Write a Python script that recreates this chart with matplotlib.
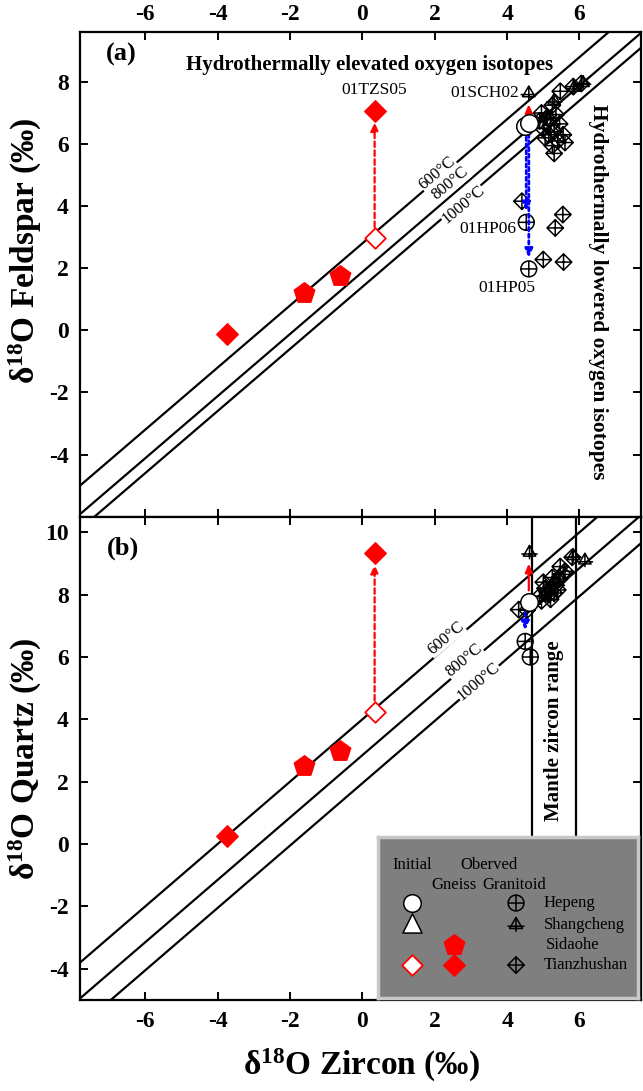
import numpy as np
import matplotlib
matplotlib.use("Agg")
import matplotlib.pyplot as plt
from matplotlib.path import Path

plt.rcParams['font.family'] = ['Liberation Serif', 'DejaVu Serif']
plt.rcParams['mathtext.fontset'] = 'custom'
plt.rcParams['mathtext.rm'] = 'Liberation Serif'
plt.rcParams['mathtext.bf'] = 'Liberation Serif:bold'
plt.rcParams['axes.unicode_minus'] = False

# ---- data (delta18O, permil) ----
temps = ['600°C', '800°C', '1000°C']
fsp_offset = [2.8, 1.88, 1.4]      # feldspar - zircon
qtz_offset = [4.0, 2.85, 1.95]     # quartz - zircon
mantle_zrc = [4.7, 5.9]

# gneiss (Tianzhushan 01TZS05 etc.)
gn_ini_zrc = [0.34]
gn_ini_fsp = [2.97]
gn_ini_qtz = [4.25]
gn_obs_zrc = [-3.73, 0.34]
gn_obs_fsp = [-0.13, 7.06]
gn_obs_qtz = [0.25, 9.32]
sd_zrc = [-1.62, -0.62]
sd_fsp = [1.22, 1.76]
sd_qtz = [2.50, 3.00]

# granitoid initial
ini_zrc = [4.50, 4.60]
ini_fsp = [6.58, 6.68]
ini_qtz = [7.70, 7.78]

# granitoid observed - feldspar panel
hp_a_zrc = [4.53, 4.60]
hp_a_fsp = [3.48, 1.98]
sc_a_zrc = [4.60, 5.85, 6.10, 5.30, 5.10]
sc_a_fsp = [7.64, 7.82, 7.97, 7.40, 6.90]
tz_a_zrc = [4.41, 5.54, 5.33, 5.00, 5.56, 5.47, 5.83, 6.05, 4.95, 5.25, 5.10, 5.35,
            5.00, 5.20, 5.45, 5.15, 5.30, 5.55, 5.40, 5.25, 5.60, 5.30, 4.90, 5.05]
tz_a_fsp = [4.16, 3.73, 3.30, 2.28, 2.20, 7.70, 7.85, 7.95, 7.00, 7.25, 6.85, 6.95,
            6.50, 6.60, 6.65, 6.30, 6.40, 6.30, 6.10, 5.95, 6.05, 5.70, 6.75, 6.20]

# granitoid observed - quartz panel
hp_b_zrc = [4.50, 4.64]
hp_b_qtz = [6.50, 6.00]
sc_b_zrc = [4.62, 5.83, 6.15, 5.30, 5.05]
sc_b_qtz = [9.35, 9.24, 9.10, 8.45, 8.00]
tz_b_zrc = [4.32, 5.47, 5.80, 5.00, 5.25, 4.90, 5.10, 5.35, 5.15, 5.45, 5.20, 5.05,
            5.30, 5.55, 4.95, 5.60, 5.40, 4.55]
tz_b_qtz = [7.52, 8.90, 9.20, 8.40, 8.55, 7.95, 8.10, 8.30, 8.00, 8.50, 7.85, 8.20,
            8.05, 8.65, 7.80, 8.75, 8.15, 7.50]

xticks = [-6, -4, -2, 0, 2, 4, 6]

# ---- custom markers ----
circ = Path.unit_circle()
cross = Path([(-1, 0), (1, 0), (0, -1), (0, 1)],
             [Path.MOVETO, Path.LINETO, Path.MOVETO, Path.LINETO])
circ_plus = Path.make_compound_path(circ, cross)
diam = Path([(0, 1), (1, 0), (0, -1), (-1, 0), (0, 1)],
            [Path.MOVETO, Path.LINETO, Path.LINETO, Path.LINETO, Path.CLOSEPOLY])
diam_plus = Path.make_compound_path(diam, cross)
tri = Path([(0, 1), (0.87, -0.5), (-0.87, -0.5), (0, 1)],
           [Path.MOVETO, Path.LINETO, Path.LINETO, Path.CLOSEPOLY])
tri_bar = Path([(-1.15, -0.2), (1.15, -0.2), (0, 1), (0, -0.95)],
               [Path.MOVETO, Path.LINETO, Path.MOVETO, Path.LINETO])
tri_plus = Path.make_compound_path(tri, tri_bar)

red = '#ff0000'
blue = '#0000ff'

fig = plt.figure(figsize=(6.43, 10.91), dpi=100)
ax1 = fig.add_axes([0.1244, 0.5264, 0.8725, 0.444])
ax2 = fig.add_axes([0.1244, 0.0834, 0.8725, 0.443])

xl = (-7.8, 7.7)
for ax in (ax1, ax2):
    ax.set_xlim(*xl)
    ax.set_xticks(xticks)
    ax.tick_params(direction='in', length=6, width=1.4, top=True, right=True,
                   labelsize=17, pad=8)
    for s in ax.spines.values():
        s.set_linewidth(1.6)

ax1.set_ylim(-6, 9.6)
ax1.set_yticks([-4, -2, 0, 2, 4, 6, 8])
ax1.tick_params(axis='x', labeltop=True, labelbottom=False, pad=5)
ax2.set_ylim(-5, 10.5)
ax2.set_yticks([-4, -2, 0, 2, 4, 6, 8, 10])
for ax in (ax1, ax2):
    for lab in ax.get_xticklabels() + ax.get_yticklabels():
        lab.set_fontweight('bold')

lx = np.array([-9.0, 9.0])


def eq_lines(ax, offs, lab_pos):
    for d, t, (tx, ty) in zip(offs, temps, lab_pos):
        ax.plot(lx, lx + d, color='k', lw=1.6, zorder=2)
        ax.text(tx, ty, t, rotation=40, fontsize=12, ha='center', va='center',
                rotation_mode='anchor', zorder=3,
                bbox=dict(fc='white', ec='none', pad=0.2))


def obs(ax, x, y, m, s=140):
    ax.scatter(x, y, marker=m, s=s, facecolors='none', edgecolors='k',
               linewidths=1.1, zorder=4)


def arrow(ax, x, y0, y1, color, ls, lw=1.6):
    ax.annotate('', xy=(x, y1), xytext=(x, y0),
                arrowprops=dict(arrowstyle='-|>,head_width=0.22,head_length=0.5',
                                color=color, lw=lw, linestyle=ls,
                                shrinkA=8, shrinkB=8), zorder=5)


# ---- panel (a) feldspar ----
eq_lines(ax1, fsp_offset, [(2.07, 5.07), (2.44, 4.73), (2.78, 4.05)])
obs(ax1, tz_a_zrc, tz_a_fsp, diam_plus)
obs(ax1, sc_a_zrc, sc_a_fsp, tri_plus)
obs(ax1, hp_a_zrc, hp_a_fsp, circ_plus, 130)
ax1.scatter(ini_zrc, ini_fsp, marker='o', s=160, facecolors='white',
            edgecolors='k', linewidths=1.1, zorder=6)
ax1.scatter(gn_obs_zrc, gn_obs_fsp, marker='D', s=120, c=red, zorder=6)
ax1.scatter(sd_zrc, sd_fsp, marker='p', s=240, c=red, zorder=6)
ax1.scatter(gn_ini_zrc, gn_ini_fsp, marker='D', s=110, facecolors='white',
            edgecolors=red, linewidths=1.3, zorder=6)
arrow(ax1, gn_ini_zrc[0], gn_ini_fsp[0], gn_obs_fsp[1], red, (0, (2.5, 1.5)))
arrow(ax1, ini_zrc[1], ini_fsp[1], sc_a_fsp[0], red, '-')
arrow(ax1, hp_a_zrc[0], ini_fsp[0], hp_a_fsp[0], blue, (0, (1.2, 1.2)), 2)
arrow(ax1, hp_a_zrc[1], ini_fsp[1], hp_a_fsp[1], blue, (0, (1.2, 1.2)), 2)

ax1.text(-6.65, 8.9, '(a)', fontsize=19, fontweight='bold', ha='center', va='center')
ax1.text(0.2, 8.55, 'Hydrothermally elevated oxygen isotopes', fontsize=15,
         fontweight='bold', ha='center', va='center')
ax1.text(gn_obs_zrc[1], 7.75, '01TZS05', fontsize=12.5, ha='center', va='center')
ax1.text(4.32, sc_a_fsp[0], '01SCH02', fontsize=12.5, ha='right', va='center')
ax1.text(4.26, 3.25, '01HP06', fontsize=12.5, ha='right', va='center')
ax1.text(4.0, 1.38, '01HP05', fontsize=12.5, ha='center', va='center')
ax1.text(6.5, 1.25, 'Hydrothermally lowered oxygen isotopes', fontsize=15.5,
         fontweight='bold', rotation=-90, ha='center', va='center')

# ---- panel (b) quartz ----
for xm in mantle_zrc:
    ax2.axvline(xm, color='k', lw=1.6, zorder=2)
ax2.text(sum(mantle_zrc) / 2, 3.65, 'Mantle zircon range', fontsize=15,
         fontweight='bold', rotation=90, ha='center', va='center')
eq_lines(ax2, qtz_offset, [(2.3, 6.6), (2.8, 5.9), (3.22, 5.2)])
obs(ax2, tz_b_zrc, tz_b_qtz, diam_plus)
obs(ax2, sc_b_zrc, sc_b_qtz, tri_plus)
obs(ax2, hp_b_zrc, hp_b_qtz, circ_plus, 130)
ax2.scatter(ini_zrc[1:], ini_qtz[1:], marker='o', s=160, facecolors='white',
            edgecolors='k', linewidths=1.1, zorder=6)
ax2.scatter(gn_obs_zrc, gn_obs_qtz, marker='D', s=120, c=red, zorder=6)
ax2.scatter(sd_zrc, sd_qtz, marker='p', s=240, c=red, zorder=6)
ax2.scatter(gn_ini_zrc, gn_ini_qtz, marker='D', s=110, facecolors='white',
            edgecolors=red, linewidths=1.3, zorder=6)
arrow(ax2, gn_ini_zrc[0], gn_ini_qtz[0], gn_obs_qtz[1], red, (0, (2.5, 1.5)))
arrow(ax2, ini_zrc[1], ini_qtz[1], sc_b_qtz[0], red, '-')
arrow(ax2, hp_b_zrc[0], ini_qtz[1], hp_b_qtz[0], blue, (0, (1.2, 1.2)), 2)
ax2.text(-6.6, 9.5, '(b)', fontsize=19, fontweight='bold', ha='center', va='center')

# axis labels
fig.text(0.04, 0.77, r'$\mathbf{\delta^{18}}$O Feldspar (‰)', fontsize=24,
         fontweight='bold', rotation=90, ha='center', va='center')
fig.text(0.04, 0.305, r'$\mathbf{\delta^{18}}$O Quartz (‰)', fontsize=24,
         fontweight='bold', rotation=90, ha='center', va='center')
fig.text(0.563, 0.006, r'$\mathbf{\delta^{18}}$O Zircon (‰)', fontsize=24,
         fontweight='bold', ha='center', va='bottom')

# ---- legend box ----
lg = fig.add_axes([0.588, 0.0852, 0.404, 0.1476])
lg.set_xlim(0, 1)
lg.set_ylim(0, 1)
lg.set_xticks([])
lg.set_yticks([])
lg.set_facecolor('#7f7f7f')
for s in lg.spines.values():
    s.set_edgecolor('#c8c8c8')
    s.set_linewidth(2.5)
lfs = 12
lg.text(0.131, 0.826, 'Initial', fontsize=lfs, ha='center', va='center')
lg.text(0.427, 0.826, 'Oberved', fontsize=lfs, ha='center', va='center')
lg.text(0.292, 0.702, 'Gneiss', fontsize=lfs, ha='center', va='center')
lg.text(0.523, 0.702, 'Granitoid', fontsize=lfs, ha='center', va='center')
lg.scatter([0.131], [0.59], marker='o', s=160, facecolors='white', edgecolors='k', lw=1.1)
lg.scatter([0.131], [0.465], marker='^', s=190, facecolors='white', edgecolors='k', lw=1.1)
lg.scatter([0.131], [0.205], marker='D', s=110, facecolors='white', edgecolors=red, lw=1.3)
lg.scatter([0.292], [0.33], marker='p', s=240, c=red)
lg.scatter([0.292], [0.205], marker='D', s=120, c=red)
lg.scatter([0.531], [0.59], marker=circ_plus, s=130, facecolors='none', edgecolors='k', lw=1.1)
lg.scatter([0.531], [0.455], marker=tri_plus, s=150, facecolors='none', edgecolors='k', lw=1.1)
lg.scatter([0.531], [0.205], marker=diam_plus, s=140, facecolors='none', edgecolors='k', lw=1.1)
lg.text(0.638, 0.59, 'Hepeng', fontsize=lfs, ha='left', va='center')
lg.text(0.638, 0.455, 'Shangcheng', fontsize=lfs, ha='left', va='center')
lg.text(0.646, 0.33, 'Sidaohe', fontsize=lfs, ha='left', va='center')
lg.text(0.638, 0.205, 'Tianzhushan', fontsize=lfs, ha='left', va='center')

fig.savefig('out.png', dpi=100)
